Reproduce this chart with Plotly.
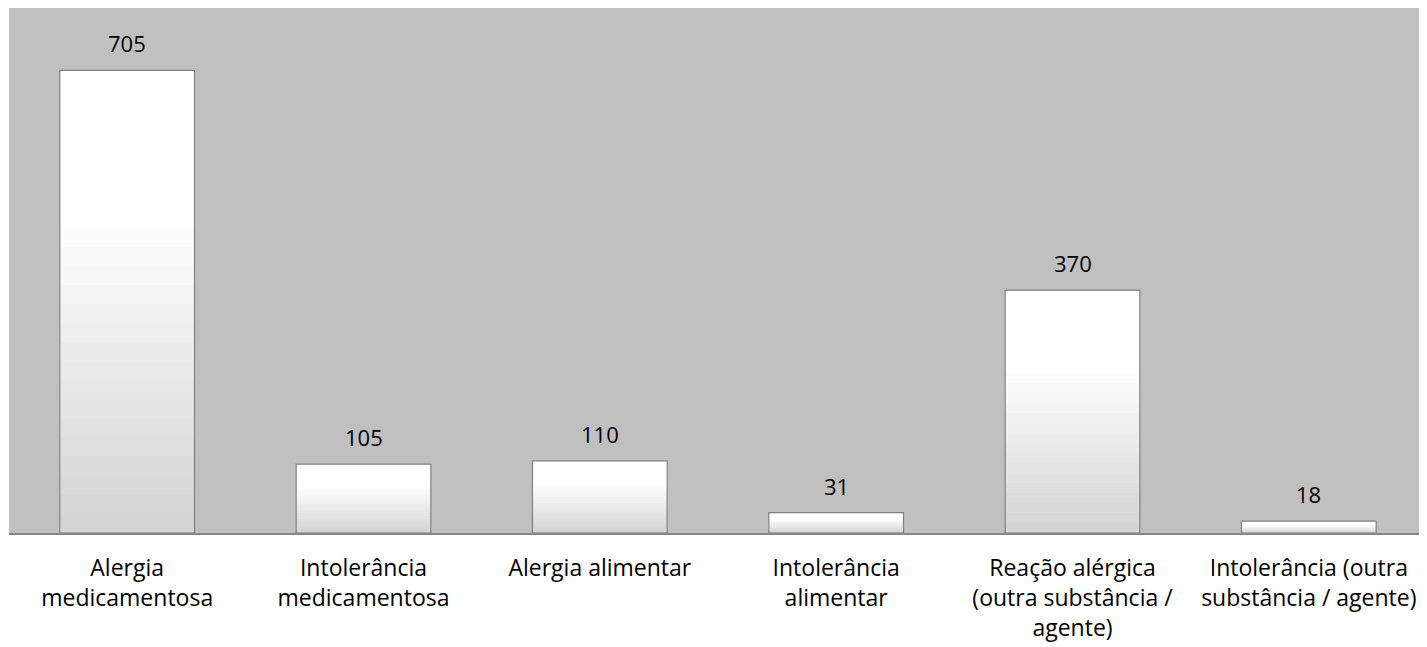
import plotly.graph_objects as go

categories = [
    "Alergia<br>medicamentosa",
    "Intolerância<br>medicamentosa",
    "Alergia alimentar",
    "Intolerância<br>alimentar",
    "Reação alérgica<br>(outra substância /<br>agente)",
    "Intolerância (outra<br>substância / agente)",
]
values = [705, 105, 110, 31, 370, 18]

FONT = "Open Sans"
BAR_W = 0.57
fig = go.Figure()

# base white bar
fig.add_trace(go.Bar(x=categories, y=values, width=BAR_W,
                     marker=dict(color="#ffffff", line=dict(width=0)),
                     hoverinfo="skip"))
# gradient layers: white top third, darker toward the bottom
N = 16
for i in range(1, N + 1):
    frac = 0.66 * (1 - (i - 1) / N)
    shade = int(255 - (i / N) * 42)
    fig.add_trace(go.Bar(x=categories, y=[v * frac for v in values], width=BAR_W,
                         marker=dict(color=f"rgb({shade},{shade},{shade})", line=dict(width=0)),
                         hoverinfo="skip"))
# outline
fig.add_trace(go.Bar(x=categories, y=values, width=BAR_W,
                     marker=dict(color="rgba(0,0,0,0)", line=dict(width=1.2, color="#808080")),
                     hoverinfo="skip"))

# value labels
for c, v in zip(categories, values):
    fig.add_annotation(x=c, y=v, text=str(v), showarrow=False, yanchor="bottom",
                       yshift=10, font=dict(family=FONT, size=22, color="#000000"))

fig.update_layout(
    barmode="overlay",
    showlegend=False,
    width=1419, height=639,
    margin=dict(l=1, r=0, t=0, b=114, autoexpand=False),
    paper_bgcolor="#ffffff",
    plot_bgcolor="#c0c0c0",
    font=dict(family=FONT, size=22, color="#000000"),
    xaxis=dict(showgrid=False, showline=True, linecolor="#868686", linewidth=1.5,
               ticks="outside", ticklen=14, tickcolor="rgba(0,0,0,0)",
               tickfont=dict(family=FONT, size=23, color="#000000"),
               tickangle=0, automargin=False),
    yaxis=dict(range=[0, 800], showgrid=False, showticklabels=False, zeroline=False,
               showline=False, automargin=False),
)

fig.write_html("out.html")
